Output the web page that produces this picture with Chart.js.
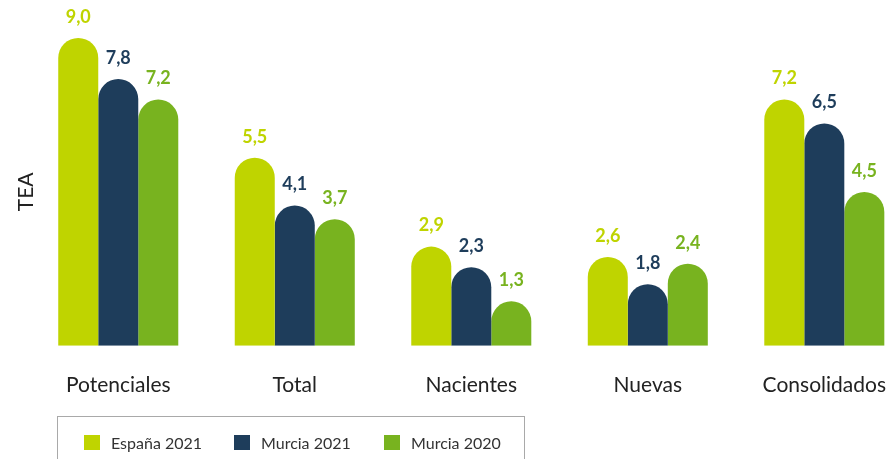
<!DOCTYPE html>
<html>
<head>
<meta charset="utf-8">
<script src="https://cdn.jsdelivr.net/npm/chart.js@4.4.1/dist/chart.umd.min.js"></script>
<style>
  html, body { margin: 0; padding: 0; background: #fff; }
  .wrap { position: relative; width: 888px; height: 459px; overflow: hidden; }
  .canvas-box { position: absolute; left: 0; top: 0; width: 913px; height: 459px; }
  .legend {
    position: absolute; left: 57px; top: 416px; width: 468px; height: 60px;
    border: 1px solid #a9a9a9; box-sizing: border-box;
    font-family: 'Lato', sans-serif; font-size: 16px; color: #333;
  }
  .legend span.item { position: absolute; top: 16px; line-height: 19px; }
  .legend i { position: absolute; top: 2px; width: 16px; height: 15px; }
</style>
</head>
<body>
<div class="wrap">
  <div class="canvas-box"><canvas id="chart"></canvas></div>
  <div class="legend" id="legend"></div>
</div>
<script>
var categories = ['Potenciales', 'Total', 'Nacientes', 'Nuevas', 'Consolidados'];
var seriesNames = ['España 2021', 'Murcia 2021', 'Murcia 2020'];
var espana2021 = [9.0, 5.5, 2.9, 2.6, 7.2];
var murcia2021 = [7.8, 4.1, 2.3, 1.8, 6.5];
var murcia2020 = [7.2, 3.7, 1.3, 2.4, 4.5];
var colors = ['#bfd400', '#1e3d5b', '#78b31f'];

document.addEventListener('DOMContentLoaded', function () {
  initLegend();
  initChart();
});

function initLegend() {
  var legend = document.getElementById('legend');
  var offsets = [26, 176, 326];
  seriesNames.forEach(function (name, index) {
    var item = document.createElement('span');
    item.className = 'item';
    item.style.left = offsets[index] + 'px';
    item.style.paddingLeft = '27px';
    item.innerHTML = '<i style="left:0;background:' + colors[index] + '"></i>' + name;
    legend.appendChild(item);
  });
}

var valueLabels = {
  id: 'valueLabels',
  afterDatasetsDraw: function (chart) {
    var ctx = chart.ctx;
    ctx.save();
    ctx.font = 'bold 18px Lato, sans-serif';
    ctx.textAlign = 'center';
    ctx.textBaseline = 'middle';
    chart.data.datasets.forEach(function (dataset, i) {
      var meta = chart.getDatasetMeta(i);
      ctx.fillStyle = dataset.labelColor;
      meta.data.forEach(function (bar, j) {
        var text = dataset.data[j].toFixed(1).replace('.', ',');
        ctx.fillText(text, bar.x, bar.y - 21);
      });
    });
    ctx.restore();
  }
};

function initChart() {
  var canvas = document.getElementById('chart');
  var radius = { topLeft: 20, topRight: 20, bottomLeft: 0, bottomRight: 0 };
  var data = [espana2021, murcia2021, murcia2020];

  new Chart(canvas, {
    type: 'bar',
    data: {
      labels: categories,
      datasets: data.map(function (values, i) {
        return {
          label: seriesNames[i],
          data: values,
          backgroundColor: colors[i],
          labelColor: colors[i],
          borderRadius: radius,
          borderSkipped: false,
          barPercentage: 1,
          categoryPercentage: 0.68
        };
      })
    },
    options: {
      responsive: true,
      maintainAspectRatio: false,
      animation: false,
      layout: { padding: { top: 38, left: 5, right: 0, bottom: 34 } },
      plugins: {
        legend: { display: false },
        tooltip: { enabled: false }
      },
      scales: {
        x: {
          grid: { display: false, drawTicks: false },
          border: { display: false },
          ticks: { color: '#222', padding: 27, font: { family: 'Lato', size: 21 } }
        },
        y: {
          min: 0,
          max: 9,
          afterFit: function (scale) { scale.width = 25; },
          grid: { display: false, drawTicks: false },
          border: { display: false },
          ticks: { display: false },
          title: {
            display: true,
            text: 'TEA',
            color: '#222',
            padding: { top: 9, bottom: 0 },
            font: { family: 'Lato', size: 21 }
          }
        }
      }
    },
    plugins: [valueLabels]
  });
}
</script>
</body>
</html>
